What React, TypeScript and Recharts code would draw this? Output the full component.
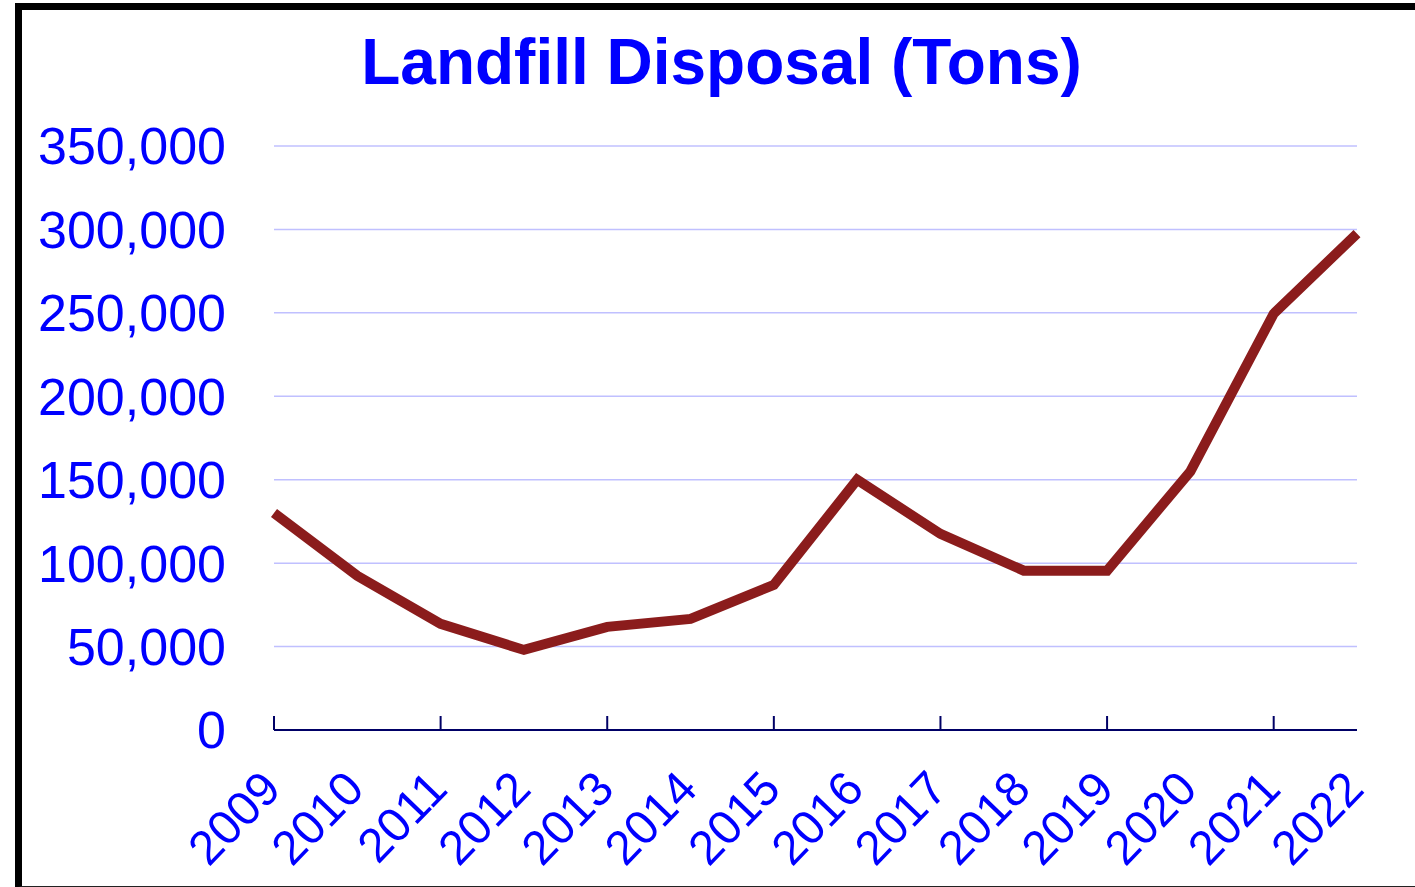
import React from "react";
import { LineChart, Line, XAxis, YAxis, CartesianGrid } from "recharts";

const years = ["2009", "2010", "2011", "2012", "2013", "2014", "2015", "2016", "2017", "2018", "2019", "2020", "2021", "2022"];
const tons = [130000, 92400, 63600, 48000, 61800, 66600, 87000, 150000, 117500, 95500, 95500, 155000, 249500, 297500];
const yTicks = [0, 50000, 100000, 150000, 200000, 250000, 300000, 350000];

const data = years.map((year, i) => ({ year, tons: tons[i] }));

const FONT = "'Liberation Sans', Arial, sans-serif";
const BLUE = "#0000ff";
const AXIS = "#000066";

function YearTick({ x, y, payload, index }: any) {
  const tx = x + 9;
  const ty = y + 61;
  return (
    <g>
      {index % 2 === 0 && <line x1={x} y1={y} x2={x} y2={y - 14} stroke={AXIS} strokeWidth={2} />}
      <text
        x={tx}
        y={ty}
        transform={`rotate(-46 ${tx} ${ty})`}
        textAnchor="end"
        fill={BLUE}
        fontSize={48}
        fontFamily={FONT}
      >
        {payload.value}
      </text>
    </g>
  );
}

export default function App() {
  return (
    <div style={{ position: "absolute", left: 0, top: 0, width: 1415, height: 887, overflow: "hidden", background: "#fff" }}>
      <div
        style={{
          position: "absolute",
          left: 15,
          top: 3,
          width: 1500,
          height: 876,
          borderLeft: "7px solid #000",
          borderTop: "7px solid #000",
          borderBottom: "2px solid #222",
        }}
      />
      <div
        style={{
          position: "absolute",
          left: 0,
          top: 22,
          width: 1443,
          textAlign: "center",
          fontFamily: FONT,
          fontWeight: "bold",
          fontSize: 64,
          color: BLUE,
          lineHeight: "80px",
        }}
      >
        Landfill Disposal (Tons)
      </div>
      <div style={{ position: "absolute", left: 0, top: 0 }}>
        <LineChart width={1415} height={887} data={data} margin={{ top: 146, right: 58, left: 0, bottom: 0 }}>
          <CartesianGrid vertical={false} stroke="#c0c0ff" strokeWidth={1.5} />
          <XAxis
            dataKey="year"
            height={157}
            interval={0}
            padding={{ left: 0, right: 0 }}
            axisLine={{ stroke: AXIS, strokeWidth: 2 }}
            tickLine={false}
            tickSize={0}
            tickMargin={0}
            tick={<YearTick />}
          />
          <YAxis
            width={274}
            domain={[0, 350000]}
            ticks={yTicks}
            axisLine={false}
            tickLine={false}
            tickSize={0}
            tickMargin={48}
            tickFormatter={(v: number) => v.toLocaleString("en-US")}
            tick={{ fill: BLUE, fontSize: 52, fontFamily: FONT }}
          />
          <Line
            type="linear"
            dataKey="tons"
            stroke="#8b1c1c"
            strokeWidth={10}
            dot={false}
            isAnimationActive={false}
          />
        </LineChart>
      </div>
    </div>
  );
}
